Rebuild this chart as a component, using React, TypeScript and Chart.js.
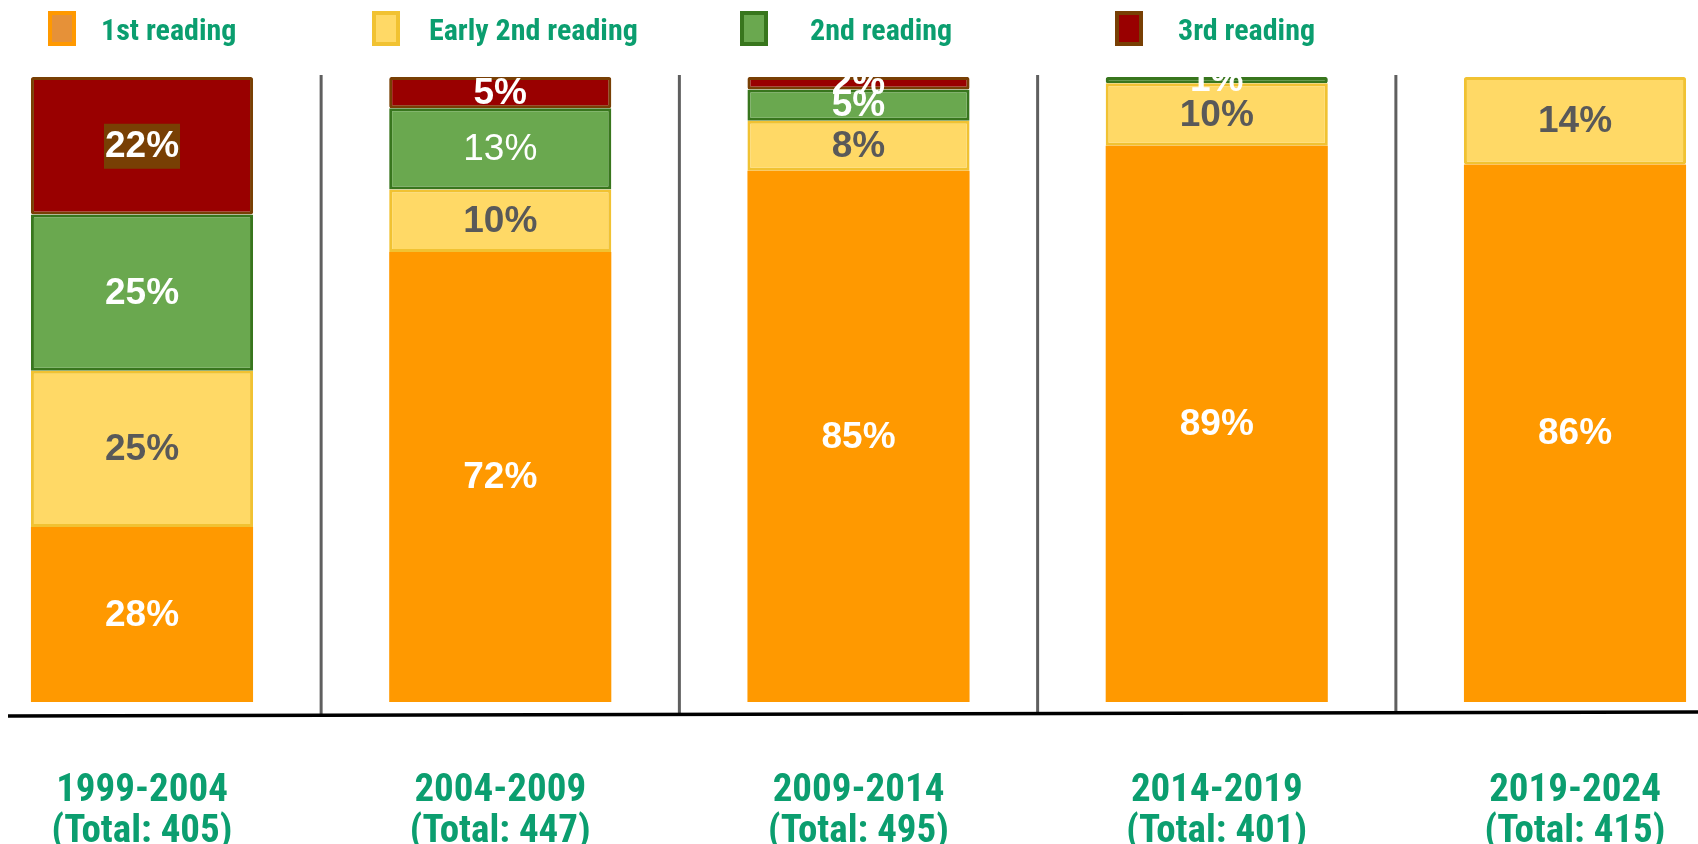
import React, { useEffect, useRef } from 'react';
import { Chart, registerables } from 'chart.js';

Chart.register(...registerables);

// ---- Data ----
const categories = ['1999-2004', '2004-2009', '2009-2014', '2014-2019', '2019-2024'];
const totals = [405, 447, 495, 401, 415];
const firstReading = [28, 72, 85, 89, 86];
const earlySecondReading = [25, 10, 8, 10, 14];
const secondReading = [25, 13, 5, 1, null];
const thirdReading = [22, 5, 2, null, null];
const seriesNames = ['1st reading', 'Early 2nd reading', '2nd reading', '3rd reading'];

// ---- Styles / layout ----
const GREEN_TEXT = '#0b9e6f';
const NARROW = "'Liberation Sans Narrow', 'Roboto Condensed', Roboto, sans-serif";
const LABEL_FAMILY = "'Liberation Sans', Arial, sans-serif";
const fills = ['#ff9900', '#ffd966', '#6aa84f', '#990000'];
const borders = ['#ff9900', '#f1c232', '#38761d', '#783f04'];
const legendFills = ['#e69138', '#ffd966', '#6aa84f', '#990000'];
const legendBorders = ['#ff9900', '#f1c232', '#38761d', '#783f04'];
const legendBoxX = [48, 372, 740, 1115];
const legendTextX = [101, 429, 810, 1178];
const labelColors = ['#ffffff', '#595959', '#ffffff', '#ffffff'];
// per-label style exceptions keyed "dataset-index"
const labelExceptions: Record<string, { weight?: string; bg?: string }> = {
  '2-1': { weight: 'normal' },
  '3-0': { bg: '#783f04' },
};

const decorPlugin = {
  id: 'decor',
  beforeDatasetsDraw(chart: any) {
    const { ctx, chartArea, scales } = chart;
    const x = scales.x;
    ctx.save();
    ctx.strokeStyle = '#5f5f5f';
    ctx.lineWidth = 3;
    for (let i = 0; i < categories.length - 1; i++) {
      const px = (x.getPixelForValue(i) + x.getPixelForValue(i + 1)) / 2;
      ctx.beginPath();
      ctx.moveTo(px, chartArea.top - 2);
      ctx.lineTo(px, chartArea.bottom + 12);
      ctx.stroke();
    }
    ctx.strokeStyle = '#000000';
    ctx.lineWidth = 3.5;
    ctx.beginPath();
    ctx.moveTo(8, chartArea.bottom + 14);
    ctx.lineTo(chart.width, chartArea.bottom + 10);
    ctx.stroke();
    ctx.restore();
  },
  afterDatasetsDraw(chart: any) {
    const { ctx } = chart;
    ctx.save();
    ctx.textAlign = 'center';
    ctx.textBaseline = 'middle';
    chart.data.datasets.forEach((ds: any, di: number) => {
      const meta = chart.getDatasetMeta(di);
      meta.data.forEach((el: any, i: number) => {
        const v = ds.data[i];
        if (v == null) return;
        const { x, y, base } = el.getProps(['x', 'y', 'base'], true);
        const cy = (y + base) / 2;
        const ex = labelExceptions[`${di}-${i}`] || {};
        const text = `${v}%`;
        ctx.font = `${ex.weight || 'bold'} 37px ${LABEL_FAMILY}`;
        if (ex.bg) {
          const w = ctx.measureText(text).width;
          ctx.fillStyle = ex.bg;
          ctx.fillRect(x - w / 2 - 1, cy - 22, w + 2, 45);
        }
        ctx.fillStyle = labelColors[di];
        ctx.fillText(text, x, cy + 1);
      });
    });
    ctx.restore();
  },
  afterDraw(chart: any) {
    const { ctx } = chart;
    ctx.save();
    chart.data.datasets.forEach((ds: any, di: number) => {
      const bx = legendBoxX[di];
      ctx.fillStyle = legendFills[di];
      ctx.fillRect(bx, 11, 28, 35);
      ctx.strokeStyle = legendBorders[di];
      ctx.lineWidth = 4;
      ctx.strokeRect(bx + 2, 13, 24, 31);
      ctx.fillStyle = GREEN_TEXT;
      ctx.font = `bold 30px ${NARROW}`;
      ctx.textAlign = 'left';
      ctx.textBaseline = 'middle';
      ctx.fillText(ds.label, legendTextX[di], 32);
    });
    ctx.restore();
  },
};

export default function App() {
  const ref = useRef<HTMLCanvasElement>(null);
  useEffect(() => {
    document.body.style.margin = '0';
    document.body.style.overflow = 'hidden';
    const series = [firstReading, earlySecondReading, secondReading, thirdReading];
    const chart = new Chart(ref.current as HTMLCanvasElement, {
      type: 'bar',
      data: {
        labels: categories.map((c, i) => [c, `(Total: ${totals[i]})`]),
        datasets: series.map((d, i) => ({
          label: seriesNames[i],
          data: d,
          backgroundColor: fills[i],
          borderColor: borders[i],
          borderWidth: i === 0 ? 0 : 3,
          borderSkipped: false,
          borderRadius: 2,
          categoryPercentage: 0.62,
          barPercentage: 1,
          clip: false,
        })) as any,
      },
      options: {
        animation: false,
        responsive: false,
        devicePixelRatio: 1,
        layout: { padding: { top: 77, left: 142, right: 123, bottom: 0 } },
        plugins: {
          legend: { display: false },
          tooltip: { enabled: false },
        },
        scales: {
          x: {
            stacked: true,
            offset: false,
            grid: { display: false, drawTicks: false },
            border: { display: false },
            ticks: {
              color: GREEN_TEXT,
              padding: 69,
              autoSkip: false,
              maxRotation: 0,
              font: { family: NARROW, size: 39, weight: 'bold', lineHeight: 1.05 },
            },
            afterFit: (scale: any) => {
              scale.height = 142;
              scale.paddingLeft = 0;
              scale.paddingRight = 0;
            },
          },
          y: { stacked: true, min: 0, max: 100, display: false },
        },
      },
      plugins: [decorPlugin],
    });
    return () => chart.destroy();
  }, []);
  return (
    <div style={{ width: 1698, height: 844 }}>
      <canvas ref={ref} width={1698} height={844} style={{ display: 'block' }} />
    </div>
  );
}
